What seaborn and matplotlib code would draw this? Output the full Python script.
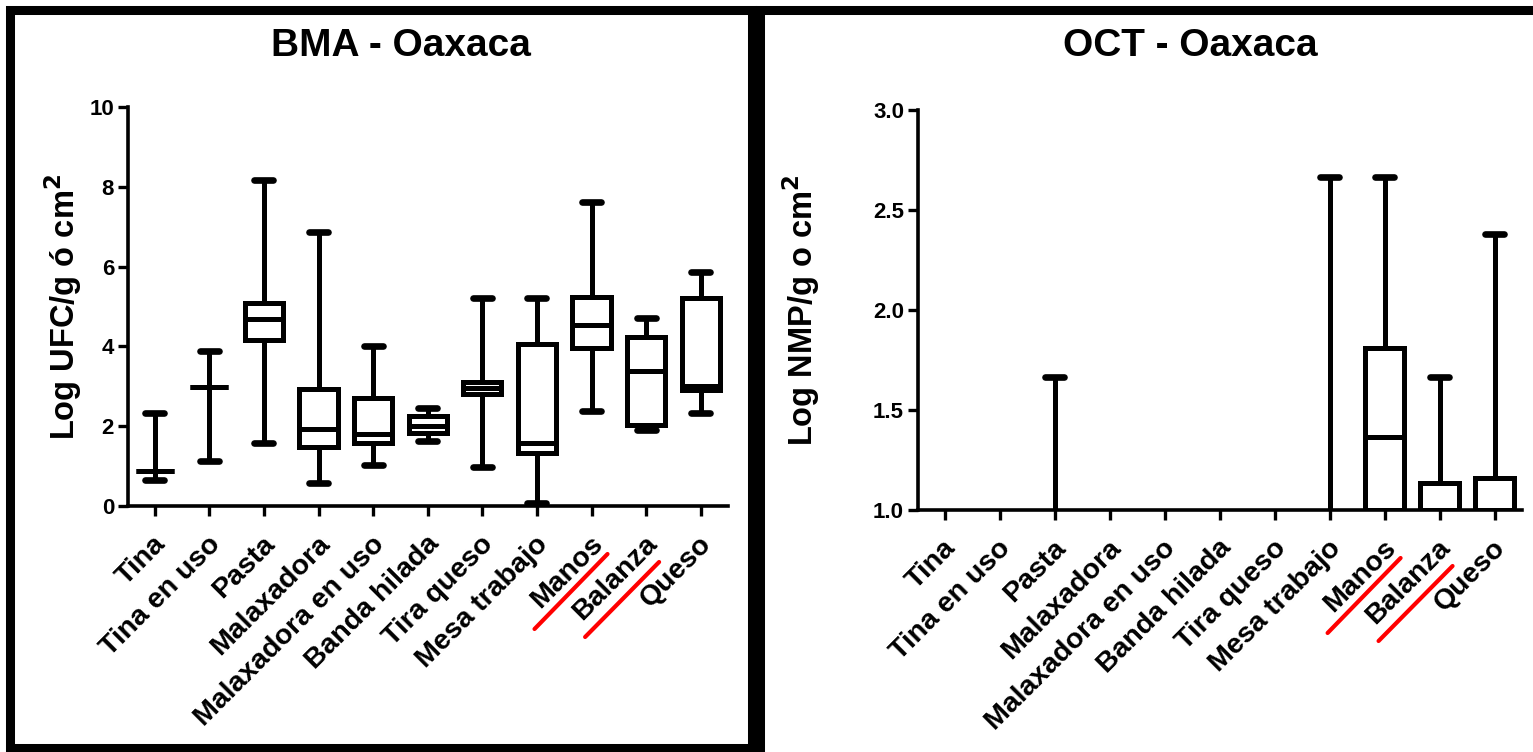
import numpy as np
import pandas as pd
import matplotlib
matplotlib.use("Agg")
import matplotlib.pyplot as plt
import matplotlib.transforms as mtransforms
import seaborn as sns
from matplotlib.lines import Line2D
from matplotlib.patches import Rectangle

categories = ["Tina", "Tina en uso", "Pasta", "Malaxadora", "Malaxadora en uso",
              "Banda hilada", "Tira queso", "Mesa trabajo", "Manos", "Balanza", "Queso"]

# five-number summaries per category: min, q1, median, q3, max
bma_min = [0.65, 1.12, 1.57, 0.58, 1.04, 1.63, 0.98, 0.08, 2.38, 1.90, 2.33]
bma_q1  = [0.87, 2.98, 4.17, 1.47, 1.58, 1.84, 2.80, 1.33, 3.96, 2.03, 2.90]
bma_med = [0.87, 2.98, 4.69, 1.94, 1.80, 2.01, 2.96, 1.58, 4.54, 3.38, 3.00]
bma_q3  = [0.87, 2.98, 5.10, 2.94, 2.70, 2.25, 3.10, 4.05, 5.24, 4.24, 5.21]
bma_max = [2.33, 3.88, 8.17, 6.87, 4.02, 2.45, 5.22, 5.22, 7.62, 4.71, 5.87]

oct_min = [1.0, 1.0, 1.0, 1.0, 1.0, 1.0, 1.0, 1.0, 1.0, 1.0, 1.0]
oct_q1  = [1.0, 1.0, 1.0, 1.0, 1.0, 1.0, 1.0, 1.0, 1.0, 1.0, 1.0]
oct_med = [1.0, 1.0, 1.0, 1.0, 1.0, 1.0, 1.0, 1.0, 1.365, 1.0, 1.0]
oct_q3  = [1.0, 1.0, 1.0, 1.0, 1.0, 1.0, 1.0, 1.0, 1.81, 1.135, 1.16]
oct_max = [1.0, 1.0, 1.665, 1.0, 1.0, 1.0, 1.0, 2.665, 2.665, 1.665, 2.38]

highlighted = ["Manos", "Balanza"]


def long_form(mins, q1s, meds, q3s, maxs):
    rows = []
    for c, a, b, m, d, e in zip(categories, mins, q1s, meds, q3s, maxs):
        for v in (a, b, m, d, e):
            rows.append({"cat": c, "val": v})
    return pd.DataFrame(rows)


sns.set_theme(style="ticks")
plt.rcParams["font.family"] = ["Liberation Sans", "DejaVu Sans"]
plt.rcParams["font.weight"] = "bold"
plt.rcParams["axes.labelweight"] = "bold"
plt.rcParams["text.color"] = "black"
plt.rcParams["axes.labelcolor"] = "black"
plt.rcParams["xtick.color"] = "black"
plt.rcParams["ytick.color"] = "black"
plt.rcParams["mathtext.default"] = "bf"

W, H = 1533, 752
fig = plt.figure(figsize=(W / 100, H / 100), dpi=100)
fig.patch.set_facecolor("white")


def fx(px):
    return px / W


def fy(py):
    return 1 - py / H


ax1 = fig.add_axes([fx(128), fy(506), fx(728) - fx(128), fy(107) - fy(506)])
ax2 = fig.add_axes([fx(918), fy(510), fx(1522) - fx(918), fy(110) - fy(510)])

specs = [
    (ax1, long_form(bma_min, bma_q1, bma_med, bma_q3, bma_max), (0, 10), [0, 2, 4, 6, 8, 10],
     ["0", "2", "4", "6", "8", "10"], "Log UFC/g ó cm$^{2}$", "BMA - Oaxaca", 401, 84),
    (ax2, long_form(oct_min, oct_q1, oct_med, oct_q3, oct_max), (1, 3), [1.0, 1.5, 2.0, 2.5, 3.0],
     ["1.0", "1.5", "2.0", "2.5", "3.0"], "Log NMP/g o cm$^{2}$", "OCT - Oaxaca", 1190, 822),
]

for ax, df, ylim, yt, ytl, ylab, title, tx, lx in specs:
    sns.boxplot(data=df, x="cat", y="val", order=categories, ax=ax,
                whis=(0, 100), showfliers=False, width=0.7,
                color="white", linecolor="black", linewidth=3.6,
                medianprops={"color": "black", "linewidth": 3.6},
                capprops={"linewidth": 4.8, "solid_capstyle": "round"})
    ax.set_ylim(*ylim)
    ax.set_xlim(-0.49, 10.5)
    ax.set_yticks(yt)
    ax.set_yticklabels(ytl, fontsize=16, fontweight="bold")
    ax.set_xticks(range(len(categories)))
    ax.set_xticklabels(categories, rotation=45, ha="right", rotation_mode="anchor",
                       fontsize=20.5, fontweight="bold")
    ax.tick_params(axis="both", direction="out", length=7, width=2.4, color="black", pad=3)
    ax.tick_params(axis="x", pad=11)
    shift = mtransforms.ScaledTranslation(-2 / 100, 0, fig.dpi_scale_trans)
    for lab in ax.get_xticklabels():
        lab.set_transform(lab.get_transform() + shift)
    for s in ["top", "right"]:
        ax.spines[s].set_visible(False)
    for s in ["left", "bottom"]:
        ax.spines[s].set_linewidth(2.6)
        ax.spines[s].set_color("black")
    ax.set_xlabel("")
    ax.set_ylabel(ylab, fontsize=23.5, fontweight="bold")
    bb = ax.get_position()
    ax.yaxis.set_label_coords((fx(lx) - bb.x0) / bb.width, 0.5)
    fig.text(fx(tx), fy(46), title, ha="center", va="center", fontsize=28, fontweight="bold")

fig.canvas.draw()

# hide parts of the OCT boxes that collapse onto the axis baseline
base = ax2.get_ylim()[0]
for ln in ax2.lines:
    yd = np.asarray(ln.get_ydata(), dtype=float)
    if yd.size and np.allclose(yd, base):
        ln.set_visible(False)
for p in ax2.patches:
    ext = p.get_path().get_extents()
    if ext.height < 1e-9:
        p.set_visible(False)

# red underlines under highlighted labels (offsets in pixels from tick/axis point)
under_off = {"Manos": ((-57, 123), (16, 48)), "Balanza": ((-61, 131), (13, 56))}
for ax in (ax1, ax2):
    y0 = ax.get_ylim()[0]
    for name in highlighted:
        (dx1, dy1), (dx2, dy2) = under_off[name]
        i = categories.index(name)
        px, py = ax.transData.transform((i, y0))
        p1 = fig.transFigure.inverted().transform((px + dx1, py - dy1))
        p2 = fig.transFigure.inverted().transform((px + dx2, py - dy2))
        fig.add_artist(Line2D([p1[0], p2[0]], [p1[1], p2[1]], transform=fig.transFigure,
                              color="red", linewidth=3))

# black panel frames
fig.add_artist(Rectangle((fx(10), fy(748)), fx(752) - fx(10), fy(10) - fy(748),
                         transform=fig.transFigure, fill=False, edgecolor="black", linewidth=6.5))
fig.add_artist(Rectangle((fx(760), fy(756)), fx(1560) - fx(760), fy(10) - fy(756),
                         transform=fig.transFigure, fill=False, edgecolor="black", linewidth=6.5))

fig.savefig("out.png", dpi=100, facecolor="white")
